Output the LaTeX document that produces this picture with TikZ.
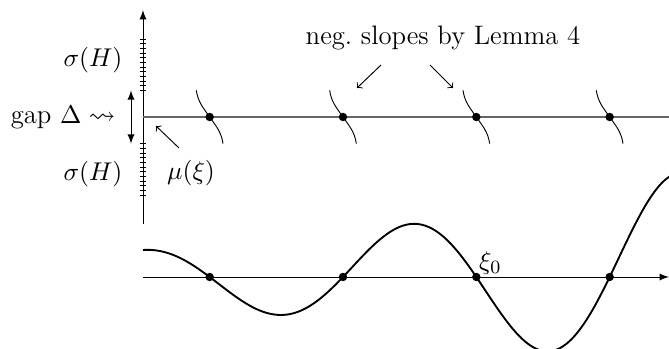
\documentclass[tikz,border=0pt]{standalone}
\usepackage{amsmath,amssymb}
\begin{document}
\begin{tikzpicture}[font=\fontsize{11.4}{13.7}\selectfont,
  dot/.style={circle, fill, inner sep=0pt, minimum size=3.6pt},
  slope/.style={thin},
  note/.style={->, thin}]
  \useasboundingbox (-2.145,-3.48) rectangle (7.89,1.755);
  % 纵轴（谱）
  \coordinate (O) at (0,0);
  \coordinate (axbot) at (0,-1.6);
  \coordinate (axtop) at (0,1.605);
  \draw[-latex] (axbot) -- (axtop);
  % 谱的刻度
  \foreach \y in {0.4,0.47,...,1.2} {
    \draw (-0.05,\y) -- (0.05,\y);
    \draw (-0.05,-\y) -- (0.05,-\y);
  }
  % 上方水平线 mu(xi)
  \coordinate (lineend) at (7.89,0);
  \draw[gray!80!black, semithick] (O) -- (lineend);
  % 谱隙箭头
  \coordinate (gapbot) at (-0.18,-0.4);
  \coordinate (gaptop) at (-0.18,0.4);
  \draw[latex-latex] (gapbot) -- (gaptop);
  % 标注
  \node (sigtop) at (-0.75,0.855) {$\sigma(H)$};
  \node (sigbot) at (-0.75,-0.855) {$\sigma(H)$};
  \node[anchor=east] (gap) at (-0.29,0) {gap $\Delta\rightsquigarrow$};
  \node (mu) at (0.72,-0.84) {$\mu(\xi)$};
  \coordinate (mufrom) at (0.54,-0.465);
  \coordinate (muto) at (0.195,-0.135);
  \draw[note] (mufrom) -- (muto);
  % 交点及负斜率小段
  \foreach \x/\n in {1/a,3/b,5/c,7/d} {
    \coordinate (top\n) at (\x-0.2,0.4);
    \coordinate (bot\n) at (\x+0.2,-0.4);
    \node[dot] (up\n) at (\x,0) {};
    \draw[slope] (top\n) to[out=-82,in=125] (up\n.center) to[out=-55,in=98] (bot\n);
  }
  % 负斜率说明
  \node (lemma) at (4.5,1.185) {neg.\ slopes by Lemma 4};
  \coordinate (lfrom) at (3.57,0.78);
  \coordinate (lto) at (3.21,0.435);
  \coordinate (rfrom) at (4.305,0.78);
  \coordinate (rto) at (4.65,0.435);
  \draw[note] (lfrom) -- (lto);
  \draw[note] (rfrom) -- (rto);
  % 下方坐标轴与函数图像
  \coordinate (lo) at (0,-2.4);
  \coordinate (loend) at (7.89,-2.4);
  \draw[-latex] (lo) -- (loend);
  \draw[thick, domain=0:7.95, samples=160, smooth]
    plot (\x, {-2.4 + 0.405*exp(0.168*\x)*cos(90*\x)});
  \foreach \x/\n in {1/a,3/b,5/c,7/d}
    \node[dot] (lo\n) at (\x,-2.4) {};
  \node[above right, inner sep=1pt] (xi) at (loc.center) {$\xi_0$};
\end{tikzpicture}
\end{document}
